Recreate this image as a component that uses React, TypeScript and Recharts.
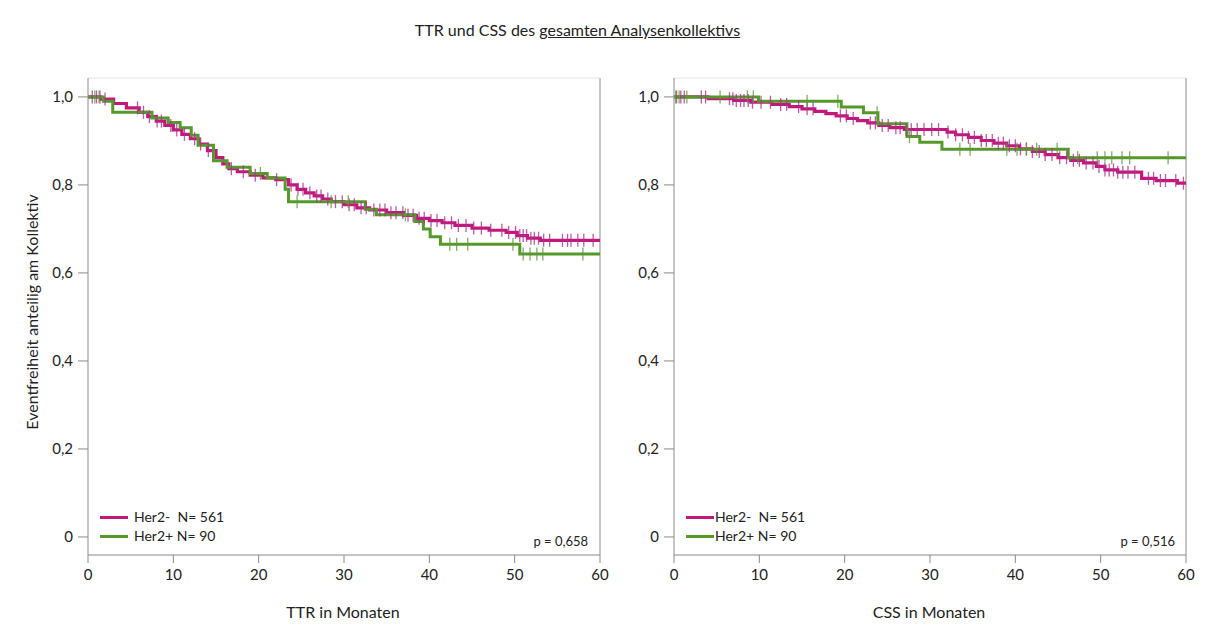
import React from 'react';
import { ComposedChart, Line, XAxis, YAxis, ReferenceLine } from 'recharts';

// TTR, Her2-
const ttrNegTime = [0, 1.5, 3, 4.5, 6, 7, 8, 9, 10, 11, 12, 13, 14, 15, 15.8, 16.5, 17.5, 19, 20.5, 22, 23.5, 24.5, 25.5, 26.5, 27.5, 28.5, 30, 31.5, 33, 35, 37, 38.5, 40, 41.5, 43, 45, 47, 49, 50.3, 51.5, 53];
const ttrNegSurv = [1.0, 0.995, 0.985, 0.975, 0.965, 0.955, 0.945, 0.935, 0.925, 0.915, 0.905, 0.893, 0.878, 0.862, 0.848, 0.837, 0.83, 0.822, 0.816, 0.812, 0.8, 0.79, 0.782, 0.775, 0.768, 0.762, 0.755, 0.748, 0.743, 0.737, 0.731, 0.724, 0.719, 0.714, 0.708, 0.702, 0.697, 0.692, 0.685, 0.679, 0.674];
const ttrNegCens = [0.5, 1, 1.4, 2, 5.8, 6.5, 7.2, 8.1, 8.6, 9.7, 10.4, 11.3, 12.5, 13.2, 14.1, 16.8, 18.2, 19.6, 22.1, 23.8, 24.6, 25.2, 26, 26.8, 27.3, 28.1, 29, 29.8, 30.6, 31.2, 32, 32.6, 33.5, 34.2, 34.8, 35.5, 36.1, 36.9, 37.5, 38.1, 38.8, 39.4, 40.2, 40.9, 41.8, 42.6, 43.4, 44.3, 45.2, 46.1, 47.2, 48.5, 49.3, 50.1, 50.6, 51, 51.4, 51.9, 52.3, 52.8, 53.4, 54.1, 55.6, 56.2, 56.6, 57.4, 58.1, 59.2];

// TTR, Her2+
const ttrPosTime = [0, 1.8, 2.9, 7.5, 9.4, 10.8, 12.1, 12.9, 14.7, 16.3, 19, 21, 23.1, 23.5, 32.5, 33.8, 38.3, 39.3, 40.1, 41.3, 50.6];
const ttrPosSurv = [1.0, 0.99, 0.965, 0.952, 0.942, 0.93, 0.913, 0.89, 0.855, 0.84, 0.826, 0.816, 0.79, 0.762, 0.745, 0.732, 0.717, 0.7, 0.682, 0.665, 0.643];
const ttrPosCens = [0.8, 1.3, 20.2, 24.5, 28.5, 30.5, 37.2, 42.4, 43.2, 44.5, 49.8, 51, 51.8, 52.6, 53.3, 58];

// CSS, Her2-
const cssNegTime = [0, 4, 7, 9, 11.5, 13.5, 15, 16.5, 17.8, 19, 20.3, 21.5, 22.7, 24, 25.3, 27, 32, 33, 34.5, 36, 37.5, 39, 40.5, 42, 43.5, 45, 46.5, 48, 49.5, 50.5, 52, 54.8, 56.5, 59];
const cssNegSurv = [1.0, 0.996, 0.992, 0.988, 0.983, 0.978, 0.973, 0.967, 0.962, 0.957, 0.951, 0.946, 0.941, 0.935, 0.93, 0.926, 0.92, 0.914, 0.908, 0.901, 0.895, 0.889, 0.882, 0.876, 0.869, 0.862, 0.856, 0.85, 0.842, 0.834, 0.829, 0.815, 0.81, 0.804];
const cssNegCens = [0.3, 0.8, 1.2, 3.2, 3.7, 6.5, 6.9, 7.3, 7.8, 8.2, 8.7, 9.2, 10.2, 11.3, 12.5, 13.2, 14.6, 15.6, 16.3, 19.5, 20.2, 21, 23, 23.6, 24.4, 25.1, 26, 26.5, 27.2, 27.8, 28.5, 29.3, 30.2, 31, 32.1, 33, 33.8, 34.5, 35.2, 36, 36.6, 37.3, 38, 38.6, 39.3, 40, 40.6, 41.3, 42, 42.8, 43.5, 44.3, 45.2, 46, 46.8, 47.5, 48.3, 49.1, 49.8, 50.5, 51, 51.5, 52, 52.6, 53.2, 54, 55.6, 56.2, 57, 57.6, 58.8, 59.7];

// CSS, Her2+
const cssPosTime = [0, 9.9, 19.6, 22.2, 23.9, 27.3, 28.8, 31.4, 46.2];
const cssPosSurv = [1.0, 0.99, 0.977, 0.964, 0.939, 0.91, 0.897, 0.881, 0.862];
const cssPosCens = [0.2, 0.6, 1.5, 5.4, 8.6, 9.3, 15.6, 19.2, 23.8, 27.6, 33.5, 34.7, 39, 40.2, 41.3, 42.5, 44.9, 47.3, 49.6, 50.5, 51.3, 52.5, 53.4, 57.9];

const xTicks = [0, 10, 20, 30, 40, 50, 60];
const yTicks = [0, 0.2, 0.4, 0.6, 0.8, 1.0];

const PINK = '#c4177c';
const GREEN = '#55992b';
const FONT = 'Lato, "Open Sans", sans-serif';

type Pt = { t: number; s: number; c: boolean };

function buildCurve(times: number[], surv: number[], cens: number[]): Pt[] {
  const pts: Pt[] = times.map((t, i) => ({ t, s: surv[i], c: false }));
  cens.forEach((ct) => {
    let idx = 0;
    for (let i = 0; i < times.length; i++) if (times[i] <= ct) idx = i;
    pts.push({ t: ct, s: surv[idx], c: true });
  });
  pts.push({ t: 60, s: surv[surv.length - 1], c: false });
  return pts.sort((a, b) => a.t - b.t || Number(a.c) - Number(b.c));
}

const censorDot = (color: string) => (props: any) => {
  const { cx, cy, payload, index } = props;
  if (!payload || !payload.c) return <g key={`d-${index}`} />;
  return (
    <line key={`d-${index}`} x1={cx} x2={cx} y1={cy - 6.5} y2={cy + 6.5} stroke={color} strokeWidth={1.3} strokeOpacity={0.8} />
  );
};

const fmtY = (v: number) => (v === 0 ? '0' : v.toFixed(1).replace('.', ','));

function KMPanel({ neg, pos, width, marginLeft, marginRight }: { neg: Pt[]; pos: Pt[]; width: number; marginLeft: number; marginRight: number }) {
  return (
    <ComposedChart width={width} height={642} margin={{ top: 78, right: marginRight, left: marginLeft, bottom: 57 }}>
      <XAxis
        type="number"
        dataKey="t"
        domain={[0, 60]}
        ticks={xTicks}
        allowDataOverflow
        stroke="#8a8a8a"
        tickSize={8}
        tickMargin={6}
        height={30}
        tick={{ fill: '#222', fontSize: 15, fontFamily: FONT }}
      />
      <YAxis
        type="number"
        domain={[-0.041, 1.043]}
        ticks={yTicks}
        allowDataOverflow
        tickFormatter={fmtY}
        stroke="#8a8a8a"
        tickSize={10}
        tickMargin={5}
        width={50}
        tick={{ fill: '#222', fontSize: 15, fontFamily: FONT }}
      />
      <ReferenceLine x={60} stroke="#8a8a8a" strokeWidth={1} />
      <ReferenceLine y={1.043} stroke="#e4e4e4" strokeWidth={1} />
      <Line data={neg} dataKey="s" type="stepAfter" stroke={PINK} strokeWidth={3.2} dot={censorDot('#a8338f')} activeDot={false} isAnimationActive={false} />
      <Line data={pos} dataKey="s" type="stepAfter" stroke={GREEN} strokeWidth={3} dot={censorDot('#5f9a3a')} activeDot={false} isAnimationActive={false} />
    </ComposedChart>
  );
}

function LegendBox({ left, gap }: { left: number; gap: number }) {
  const row = (color: string, label: string, top: number) => (
    <div style={{ position: 'absolute', left, top, display: 'flex', alignItems: 'center', fontSize: 14, fontFamily: FONT, color: '#222', whiteSpace: 'pre', lineHeight: '16px' }}>
      <span style={{ display: 'inline-block', width: 28, height: 3, background: color, marginRight: gap }} />
      {label}
    </div>
  );
  return (
    <>
      {row(PINK, 'Her2-  N= 561', 509)}
      {row(GREEN, 'Her2+ N= 90', 528)}
    </>
  );
}

const text = (content: React.ReactNode, style: React.CSSProperties) => (
  <div style={{ position: 'absolute', fontFamily: FONT, color: '#222', whiteSpace: 'pre', lineHeight: 1, ...style }}>{content}</div>
);

export default function App() {
  const ttrNeg = buildCurve(ttrNegTime, ttrNegSurv, ttrNegCens);
  const ttrPos = buildCurve(ttrPosTime, ttrPosSurv, ttrPosCens);
  const cssNeg = buildCurve(cssNegTime, cssNegSurv, cssNegCens);
  const cssPos = buildCurve(cssPosTime, cssPosSurv, cssPosCens);

  return (
    <div style={{ position: 'absolute', left: 0, top: 0, width: 1213, height: 642, background: '#fff', overflow: 'hidden' }}>
      <div style={{ position: 'absolute', left: 0, top: 0 }}>
        <KMPanel neg={ttrNeg} pos={ttrPos} width={620} marginLeft={38} marginRight={20} />
      </div>
      <div style={{ position: 'absolute', left: 600, top: 0 }}>
        <KMPanel neg={cssNeg} pos={cssPos} width={613} marginLeft={24} marginRight={27} />
      </div>

      {text(
        <>
          TTR und CSS des <span style={{ textDecoration: 'underline' }}>gesamten Analysenkollektivs</span>
        </>,
        { left: 0, width: 1155, textAlign: 'center', top: 22, fontSize: 16 }
      )}

      {text('Eventfreiheit anteilig am Kollektiv', {
        left: 32,
        top: 312,
        fontSize: 16,
        transform: 'translate(-50%, -50%) rotate(-90deg)',
      })}

      {text('TTR in Monaten', { left: 343, top: 612, fontSize: 16, transform: 'translate(-50%, -50%)' })}
      {text('CSS in Monaten', { left: 929, top: 612, fontSize: 16, transform: 'translate(-50%, -50%)' })}

      {text('p = 0,658', { left: 588, top: 541, fontSize: 13, transform: 'translate(-100%, -50%)' })}
      {text('p = 0,516', { left: 1175, top: 541, fontSize: 13, transform: 'translate(-100%, -50%)' })}

      <LegendBox left={100} gap={6} />
      <LegendBox left={686} gap={1} />
    </div>
  );
}
